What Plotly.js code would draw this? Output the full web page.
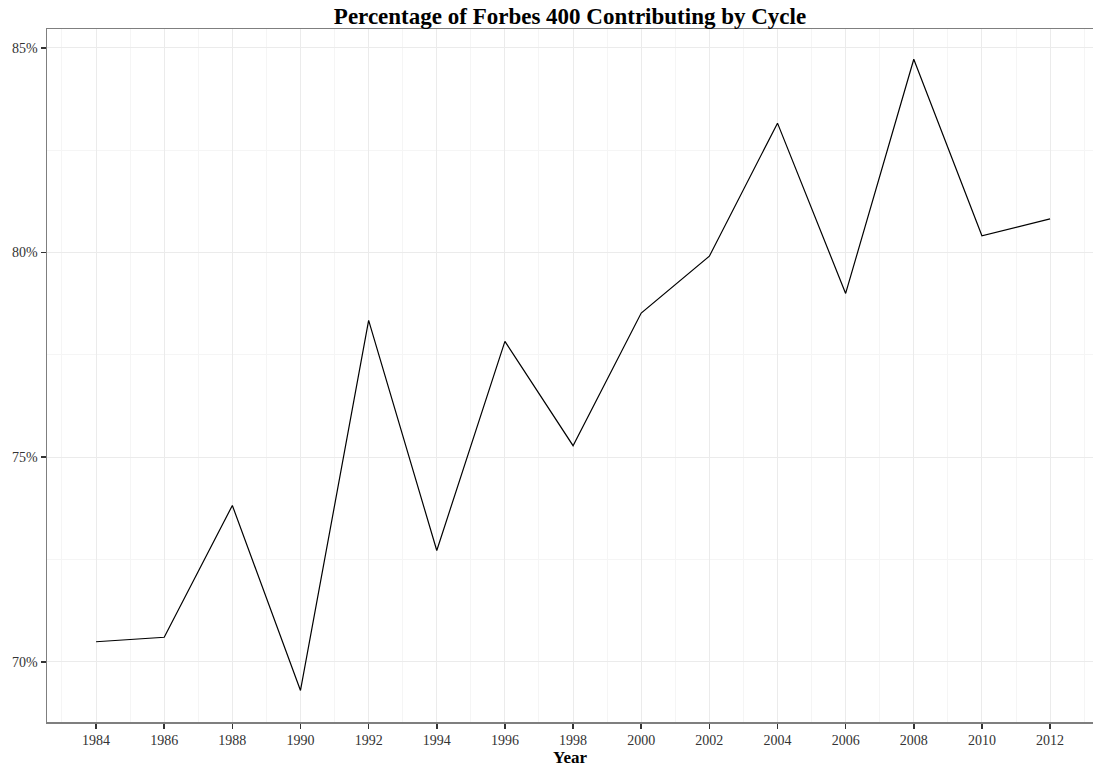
<!DOCTYPE html>
<html>
<head>
<meta charset="utf-8">
<script src="https://cdn.plot.ly/plotly-3.0.1.min.js"></script>
<style>html,body{margin:0;padding:0;background:#fff;}#chart{width:1093px;height:769px;}</style>
</head>
<body>
<div id="chart"></div>
<script>
const years = [1984, 1986, 1988, 1990, 1992, 1994, 1996, 1998, 2000, 2002, 2004, 2006, 2008, 2010, 2012];
const pctContributing = [70.49, 70.60, 73.82, 69.30, 78.34, 72.72, 77.83, 75.28, 78.52, 79.91, 83.16, 79.00, 84.72, 80.41, 80.82];
const yTickVals = [70, 75, 80, 85];
const yTickText = ['70%', '75%', '80%', '85%'];

const serif = '"Liberation Serif", "Times New Roman", serif';

const trace = {
  x: years,
  y: pctContributing,
  type: 'scatter',
  mode: 'lines',
  line: {color: '#000000', width: 1.2},
  hoverinfo: 'skip'
};

const layout = {
  width: 1093,
  height: 769,
  margin: {l: 47, r: 0, t: 29, b: 47},
  paper_bgcolor: '#ffffff',
  plot_bgcolor: '#ffffff',
  showlegend: false,
  title: {
    text: '<b>Percentage of Forbes 400 Contributing by Cycle</b>',
    font: {family: serif, size: 23, color: '#000000'},
    x: 0.5215, xanchor: 'center',
    y: 0.979, yanchor: 'middle'
  },
  xaxis: {
    range: [1982.56, 2013.26],
    tickmode: 'array',
    tickvals: years,
    ticktext: years.map(String),
    ticks: 'outside', ticklen: 5, tickwidth: 1.5, tickcolor: '#333333',
    tickfont: {family: serif, size: 14, color: '#333333'},
    showgrid: true, gridcolor: '#ebebeb', gridwidth: 1.1,
    minor: {dtick: 1, tick0: 1983, showgrid: true, gridcolor: '#f5f5f5', gridwidth: 1, ticks: ''},
    zeroline: false,
    showline: true, linecolor: '#7f7f7f', linewidth: 1.5, mirror: true,
    title: {text: '<b>Year</b>', font: {family: serif, size: 17, color: '#000000'}, standoff: 4}
  },
  yaxis: {
    range: [68.53, 85.46],
    tickmode: 'array',
    tickvals: yTickVals,
    ticktext: yTickText,
    ticks: 'outside', ticklen: 5, tickwidth: 1.5, tickcolor: '#333333',
    tickfont: {family: serif, size: 14, color: '#333333'},
    showgrid: true, gridcolor: '#ebebeb', gridwidth: 1.1,
    minor: {dtick: 2.5, tick0: 67.5, showgrid: true, gridcolor: '#f5f5f5', gridwidth: 1, ticks: ''},
    zeroline: false,
    showline: true, linecolor: '#7f7f7f', linewidth: 1.5, mirror: true
  }
};

Plotly.newPlot('chart', [trace], layout, {displayModeBar: false, staticPlot: true});
</script>
</body>
</html>
